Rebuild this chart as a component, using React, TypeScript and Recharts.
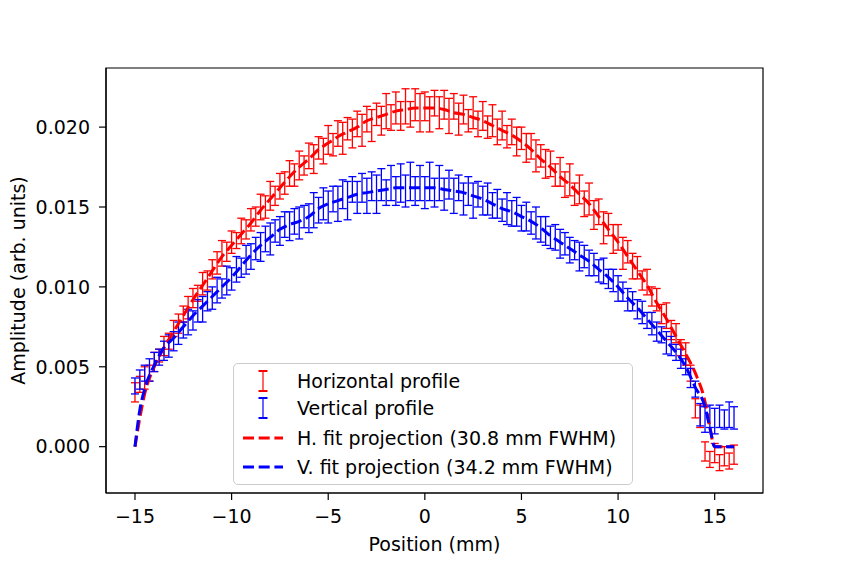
import React from 'react';
import { ComposedChart, Scatter, Line, ErrorBar, XAxis, YAxis, ReferenceArea } from 'recharts';

// measurement positions (mm), 0.25 mm step
const posX = [
  -15, -14.75, -14.5, -14.25, -14, -13.75, -13.5, -13.25,
  -13, -12.75, -12.5, -12.25, -12, -11.75, -11.5, -11.25,
  -11, -10.75, -10.5, -10.25, -10, -9.75, -9.5, -9.25,
  -9, -8.75, -8.5, -8.25, -8, -7.75, -7.5, -7.25,
  -7, -6.75, -6.5, -6.25, -6, -5.75, -5.5, -5.25,
  -5, -4.75, -4.5, -4.25, -4, -3.75, -3.5, -3.25,
  -3, -2.75, -2.5, -2.25, -2, -1.75, -1.5, -1.25,
  -1, -0.75, -0.5, -0.25, 0, 0.25, 0.5, 0.75,
  1, 1.25, 1.5, 1.75, 2, 2.25, 2.5, 2.75,
  3, 3.25, 3.5, 3.75, 4, 4.25, 4.5, 4.75,
  5, 5.25, 5.5, 5.75, 6, 6.25, 6.5, 6.75,
  7, 7.25, 7.5, 7.75, 8, 8.25, 8.5, 8.75,
  9, 9.25, 9.5, 9.75, 10, 10.25, 10.5, 10.75,
  11, 11.25, 11.5, 11.75, 12, 12.25, 12.5, 12.75,
  13, 13.25, 13.5, 13.75, 14, 14.25, 14.5, 14.75,
  15, 15.25, 15.5, 15.75, 16,
];

const hAmp = [
  0.0034, 0.0039, 0.0043, 0.0046, 0.0053, 0.0057, 0.0063, 0.0066,
  0.0074, 0.0077, 0.0083, 0.0087, 0.0093, 0.0096, 0.0102, 0.0104,
  0.0111, 0.0115, 0.0121, 0.0122, 0.0128, 0.0129, 0.0135, 0.0136,
  0.0142, 0.0144, 0.0150, 0.0150, 0.0157, 0.0157, 0.0163, 0.0165,
  0.0171, 0.0170, 0.0176, 0.0176, 0.0182, 0.0180, 0.0187, 0.0185,
  0.0192, 0.0189, 0.0196, 0.0193, 0.0199, 0.0196, 0.0202, 0.0198,
  0.0205, 0.0201, 0.0208, 0.0204, 0.0210, 0.0206, 0.0212, 0.0207,
  0.0213, 0.0208, 0.0214, 0.0209, 0.0213, 0.0208, 0.0215, 0.0209,
  0.0214, 0.0207, 0.0213, 0.0205, 0.0211, 0.0204, 0.0209, 0.0202,
  0.0207, 0.0200, 0.0204, 0.0197, 0.0201, 0.0194, 0.0197, 0.0191,
  0.0193, 0.0187, 0.0188, 0.0182, 0.0182, 0.0177, 0.0177, 0.0170,
  0.0172, 0.0164, 0.0167, 0.0158, 0.0161, 0.0152, 0.0155, 0.0145,
  0.0147, 0.0137, 0.0139, 0.0130, 0.0131, 0.0121, 0.0122, 0.0113,
  0.0112, 0.0104, 0.0103, 0.0094, 0.0092, 0.0083, 0.0082, 0.0073,
  0.0071, 0.0062, 0.0058, 0.0046, 0.0024, 0.0019, -0.0003, -0.0008,
  -0.0004, -0.0010, -0.0006, -0.0009, -0.0005,
];

const hErr = [
  0.0006, 0.0005, 0.0007, 0.0005, 0.0006, 0.0004, 0.0006, 0.0005,
  0.0005, 0.0006, 0.0005, 0.0007, 0.0006, 0.0005, 0.0007, 0.0006,
  0.0006, 0.0007, 0.0008, 0.0006, 0.0007, 0.0005, 0.0008, 0.0006,
  0.0007, 0.0006, 0.0008, 0.0007, 0.0009, 0.0006, 0.0008, 0.0007,
  0.0008, 0.0007, 0.0009, 0.0006, 0.0008, 0.0009, 0.0007, 0.0008,
  0.0009, 0.0007, 0.0008, 0.0010, 0.0007, 0.0009, 0.0008, 0.0010,
  0.0008, 0.0010, 0.0007, 0.0009, 0.0011, 0.0008, 0.0010, 0.0009,
  0.0011, 0.0008, 0.0010, 0.0012, 0.0009, 0.0011, 0.0008, 0.0010,
  0.0009, 0.0011, 0.0008, 0.0010, 0.0009, 0.0007, 0.0010, 0.0008,
  0.0009, 0.0007, 0.0010, 0.0008, 0.0009, 0.0007, 0.0008, 0.0009,
  0.0007, 0.0009, 0.0008, 0.0010, 0.0007, 0.0009, 0.0008, 0.0007,
  0.0009, 0.0008, 0.0010, 0.0007, 0.0009, 0.0008, 0.0010, 0.0009,
  0.0008, 0.0010, 0.0007, 0.0009, 0.0008, 0.0010, 0.0007, 0.0008,
  0.0007, 0.0006, 0.0008, 0.0006, 0.0007, 0.0006, 0.0008, 0.0006,
  0.0006, 0.0005, 0.0007, 0.0005, 0.0006, 0.0007, 0.0006, 0.0005,
  0.0006, 0.0005, 0.0006, 0.0005, 0.0006,
];

const vAmp = [
  0.0038, 0.0042, 0.0046, 0.0048, 0.0053, 0.0056, 0.0060, 0.0063,
  0.0066, 0.0071, 0.0073, 0.0078, 0.0079, 0.0085, 0.0086, 0.0091,
  0.0093, 0.0098, 0.0099, 0.0104, 0.0105, 0.0111, 0.0112, 0.0117,
  0.0119, 0.0124, 0.0125, 0.0130, 0.0130, 0.0135, 0.0135, 0.0139,
  0.0138, 0.0141, 0.0140, 0.0144, 0.0143, 0.0148, 0.0148, 0.0152,
  0.0150, 0.0155, 0.0152, 0.0158, 0.0154, 0.0161, 0.0156, 0.0162,
  0.0157, 0.0163, 0.0158, 0.0164, 0.0159, 0.0165, 0.0160, 0.0165,
  0.0160, 0.0166, 0.0160, 0.0165, 0.0159, 0.0166, 0.0159, 0.0165,
  0.0158, 0.0164, 0.0157, 0.0162, 0.0155, 0.0160, 0.0154, 0.0158,
  0.0154, 0.0155, 0.0151, 0.0152, 0.0148, 0.0149, 0.0146, 0.0147,
  0.0143, 0.0144, 0.0140, 0.0140, 0.0136, 0.0135, 0.0131, 0.0131,
  0.0127, 0.0127, 0.0123, 0.0123, 0.0119, 0.0119, 0.0115, 0.0114,
  0.0110, 0.0110, 0.0105, 0.0104, 0.0099, 0.0097, 0.0092, 0.0091,
  0.0086, 0.0084, 0.0079, 0.0077, 0.0072, 0.0070, 0.0065, 0.0063,
  0.0059, 0.0055, 0.0050, 0.0043, 0.0036, 0.0020, 0.0017, 0.0019,
  0.0016, 0.0019, 0.0017, 0.0020, 0.0018,
];

const vErr = [
  0.0005, 0.0006, 0.0005, 0.0007, 0.0006, 0.0005, 0.0006, 0.0007,
  0.0006, 0.0007, 0.0005, 0.0008, 0.0006, 0.0007, 0.0008, 0.0006,
  0.0007, 0.0008, 0.0006, 0.0009, 0.0007, 0.0008, 0.0006, 0.0009,
  0.0008, 0.0007, 0.0009, 0.0008, 0.0010, 0.0007, 0.0009, 0.0008,
  0.0009, 0.0008, 0.0010, 0.0007, 0.0009, 0.0011, 0.0008, 0.0010,
  0.0010, 0.0008, 0.0011, 0.0009, 0.0012, 0.0008, 0.0010, 0.0009,
  0.0011, 0.0009, 0.0012, 0.0010, 0.0008, 0.0011, 0.0009, 0.0012,
  0.0010, 0.0012, 0.0009, 0.0011, 0.0010, 0.0012, 0.0009, 0.0011,
  0.0010, 0.0009, 0.0011, 0.0008, 0.0010, 0.0009, 0.0011, 0.0008,
  0.0009, 0.0010, 0.0008, 0.0009, 0.0007, 0.0010, 0.0008, 0.0009,
  0.0008, 0.0009, 0.0007, 0.0010, 0.0008, 0.0009, 0.0007, 0.0008,
  0.0009, 0.0007, 0.0008, 0.0006, 0.0009, 0.0007, 0.0008, 0.0007,
  0.0007, 0.0008, 0.0006, 0.0007, 0.0008, 0.0006, 0.0007, 0.0006,
  0.0006, 0.0007, 0.0005, 0.0007, 0.0006, 0.0005, 0.0007, 0.0006,
  0.0005, 0.0006, 0.0005, 0.0006, 0.0005, 0.0007, 0.0008, 0.0007,
  0.0008, 0.0007, 0.0006, 0.0008, 0.0007,
];

// fit curves
const fitX = [
  -15, -14.75,
  -14.5, -14, -13.5, -13, -12.5, -12, -11.5, -11, -10.5, -10,
  -9.5, -9, -8.5, -8, -7.5, -7, -6.5, -6, -5.5, -5,
  -4.5, -4, -3.5, -3, -2.5, -2, -1.5, -1, -0.5, 0,
  0.5, 1, 1.5, 2, 2.5, 3, 3.5, 4, 4.5, 5,
  5.5, 6, 6.5, 7, 7.5, 8, 8.5, 9, 9.5, 10,
  10.5, 11, 11.5, 12, 12.5, 13, 13.5, 14, 14.5,
  14.75, 15, 16,
];

const hFitAmp = [
  0, 0.0018,
  0.0033, 0.0050, 0.0062, 0.0072, 0.0082, 0.0092, 0.0101, 0.0110, 0.0119, 0.0126,
  0.0133, 0.0140, 0.0148, 0.0155, 0.0162, 0.0169, 0.0175, 0.0180, 0.0186, 0.0190,
  0.0194, 0.0197, 0.0200, 0.0204, 0.0206, 0.0208, 0.0210, 0.0211, 0.0212, 0.0212,
  0.0212, 0.0211, 0.0209, 0.0208, 0.0206, 0.0204, 0.0201, 0.0198, 0.0195, 0.0191,
  0.0186, 0.0180, 0.0175, 0.0169, 0.0164, 0.0158, 0.0152, 0.0144, 0.0136, 0.0128,
  0.0119, 0.0110, 0.0101, 0.0090, 0.0080, 0.0069, 0.0058, 0.0046, 0.0028,
  0.0012, 0, 0,
];

const vFitAmp = [
  0, 0.0023,
  0.0036, 0.0051, 0.0062, 0.0068, 0.0075, 0.0082, 0.0088, 0.0094, 0.0100, 0.0106,
  0.0113, 0.0120, 0.0126, 0.0131, 0.0136, 0.0139, 0.0141, 0.0144, 0.0149, 0.0152,
  0.0154, 0.0156, 0.0158, 0.0159, 0.0160, 0.0161, 0.0162, 0.0162, 0.0162, 0.0162,
  0.0162, 0.0161, 0.0160, 0.0159, 0.0157, 0.0155, 0.0152, 0.0149, 0.0147, 0.0144,
  0.0141, 0.0137, 0.0132, 0.0128, 0.0124, 0.0120, 0.0116, 0.0111, 0.0106, 0.0100,
  0.0093, 0.0087, 0.0080, 0.0073, 0.0066, 0.0059, 0.0050, 0.0037, 0.0025,
  0.0012, 0, 0,
];

const xTicks = [-15, -10, -5, 0, 5, 10, 15];
const yTicks = [0, 0.005, 0.01, 0.015, 0.02];

const legendItems = [
  { label: 'Horizontal profile', color: '#ff0000', kind: 'err' },
  { label: 'Vertical profile', color: '#0000ff', kind: 'err' },
  { label: 'H. fit projection (30.8 mm FWHM)', color: '#ff0000', kind: 'dash' },
  { label: 'V. fit projection (34.2 mm FWHM)', color: '#0000ff', kind: 'dash' },
];

const hData = posX.map((x, i) => ({ x, y: hAmp[i], err: hErr[i] }));
const vData = posX.map((x, i) => ({ x, y: vAmp[i], err: vErr[i] }));
const hFit = fitX.map((x, i) => ({ x, y: hFitAmp[i] }));
const vFit = fitX.map((x, i) => ({ x, y: vFitAmp[i] }));

const FONT = '"DejaVu Sans", sans-serif';
const X_DOMAIN: [number, number] = [-16.5, 17.5];
const Y_DOMAIN: [number, number] = [-0.0029, 0.0237];
const tickStyle = { fill: '#000', fontSize: 19, fontFamily: FONT };

const minus = (v: number) => String(v).replace('-', '\u2212');
const noMark = () => <g />;

const rowCenters = [17, 44, 74, 103];

const FitLegend = () => (
  <div
    style={{
      position: 'absolute',
      left: 233,
      top: 363,
      width: 400,
      height: 122,
      boxSizing: 'border-box',
      border: '1px solid #cccccc',
      borderRadius: 5,
      background: 'rgba(255,255,255,0.8)',
      fontFamily: FONT,
      fontSize: 19,
      color: '#000',
    }}
  >
    {legendItems.map((item, i) => (
      <div key={item.label} style={{ position: 'absolute', left: 0, top: rowCenters[i] - 14, height: 28, width: 398 }}>
        <svg width={42} height={28} style={{ position: 'absolute', left: 8, top: 0 }}>
          {item.kind === 'err' ? (
            <g stroke={item.color}>
              <line x1={21} y1={4} x2={21} y2={24} strokeWidth={1.2} />
              <line x1={16.5} y1={4} x2={25.5} y2={4} strokeWidth={2} />
              <line x1={16.5} y1={24} x2={25.5} y2={24} strokeWidth={2} />
            </g>
          ) : (
            <line x1={1} y1={14} x2={41} y2={14} stroke={item.color} strokeWidth={3} strokeDasharray="11 4.7" />
          )}
        </svg>
        <span style={{ position: 'absolute', left: 63, top: 0, lineHeight: '28px', whiteSpace: 'nowrap' }}>
          {item.label}
        </span>
      </div>
    ))}
  </div>
);

export default function App() {
  return (
    <div style={{ position: 'absolute', left: 0, top: 0, width: 847, height: 565, background: '#fff' }}>
      <ComposedChart width={847} height={565} margin={{ top: 68, right: 84, bottom: 0, left: 0 }}>
        <XAxis
          dataKey="x"
          type="number"
          domain={X_DOMAIN}
          allowDataOverflow
          ticks={xTicks}
          tickFormatter={minus}
          tick={tickStyle}
          tickSize={7}
          tickMargin={10}
          height={72}
          axisLine={{ stroke: '#000', strokeWidth: 1.2 }}
          tickLine={{ stroke: '#000', strokeWidth: 1.2 }}
          label={{ value: 'Position (mm)', position: 'insideBottom', offset: 14, fill: '#000', fontSize: 19, fontFamily: FONT }}
        />
        <YAxis
          dataKey="y"
          type="number"
          domain={Y_DOMAIN}
          allowDataOverflow
          ticks={yTicks}
          tickFormatter={(v: number) => v.toFixed(3)}
          tick={tickStyle}
          tickSize={7}
          tickMargin={9}
          width={106}
          axisLine={{ stroke: '#000', strokeWidth: 1.2 }}
          tickLine={{ stroke: '#000', strokeWidth: 1.2 }}
          label={{
            value: 'Amplitude (arb. units)',
            angle: -90,
            position: 'insideLeft',
            offset: 18,
            fill: '#000',
            fontSize: 19,
            fontFamily: FONT,
            style: { textAnchor: 'middle' },
          }}
        />
        <ReferenceArea
          x1={X_DOMAIN[0]}
          x2={X_DOMAIN[1]}
          y1={Y_DOMAIN[0]}
          y2={Y_DOMAIN[1]}
          fill="none"
          stroke="#000"
          strokeWidth={1.2}
          ifOverflow="visible"
        />
        <Scatter data={hData} dataKey="y" shape={noMark} isAnimationActive={false}>
          <ErrorBar dataKey="err" direction="y" width={4} stroke="#ff0000" strokeWidth={1.3} isAnimationActive={false} />
        </Scatter>
        <Scatter data={vData} dataKey="y" shape={noMark} isAnimationActive={false}>
          <ErrorBar dataKey="err" direction="y" width={4} stroke="#0000ff" strokeWidth={1.3} isAnimationActive={false} />
        </Scatter>
        <Line
          data={hFit}
          dataKey="y"
          type="monotone"
          stroke="#ff0000"
          strokeWidth={3}
          strokeDasharray="11 4.7"
          dot={false}
          activeDot={false}
          isAnimationActive={false}
        />
        <Line
          data={vFit}
          dataKey="y"
          type="monotone"
          stroke="#0000ff"
          strokeWidth={3}
          strokeDasharray="11 4.7"
          dot={false}
          activeDot={false}
          isAnimationActive={false}
        />
      </ComposedChart>
      <FitLegend />
    </div>
  );
}
